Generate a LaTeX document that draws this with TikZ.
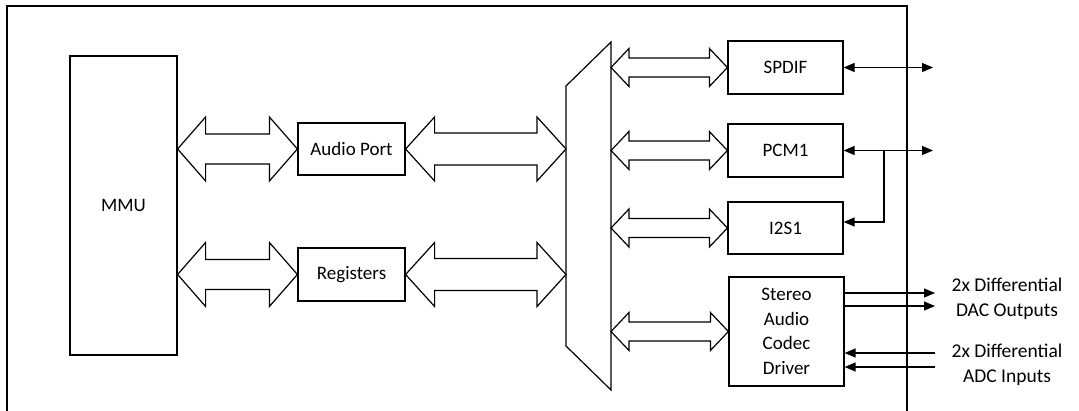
\documentclass[tikz,border=0pt]{standalone}
\usepackage{fontspec}
\setmainfont{Carlito}
\usetikzlibrary{arrows.meta,calc}
\tikzset{
  box/.style={draw,line width=1.2pt,inner sep=0pt,align=center,font=\fontsize{19}{24.5}\selectfont},
  blk/.style={draw,line width=1.2pt,fill=white,line join=miter},
  sig/.style={line width=1.2pt},
  tip/.style={-{Triangle[length=11pt,width=9pt]}},
  bitip/.style={{Triangle[length=11pt,width=9pt]}-{Triangle[length=11pt,width=9pt]}},
  lbl/.style={align=center,font=\fontsize{19.5}{24.5}\selectfont}
}
% #1 left tip, #2 right tip, #3 head length, #4 head half-width, #5 shaft half-width
\newcommand{\dblblock}[5]{%
  \draw[blk] (#1) -- ($(#1)+(#3,-#4)$) -- ($(#1)+(#3,-#5)$) -- ($(#2)+(-#3,-#5)$)
    -- ($(#2)+(-#3,-#4)$) -- (#2) -- ($(#2)+(-#3,#4)$) -- ($(#2)+(-#3,#5)$)
    -- ($(#1)+(#3,#5)$) -- ($(#1)+(#3,#4)$) -- cycle;}
\begin{document}
\begin{tikzpicture}[x=1pt,y=-1pt]
\useasboundingbox (0,0) rectangle (1079,410);
% frame
\draw[line width=1.2pt] (7,412) -- (7,6) -- (907,6) -- (907,412);
% blocks
\node[box,minimum width=107pt,minimum height=299pt,text depth=-15pt] (mmu) at (123.5,205.5) {MMU};
\node[box,minimum width=107pt,minimum height=52pt] (ap) at (351.5,149) {Audio Port};
\node[box,minimum width=107pt,minimum height=53pt] (reg) at (351.5,274.5) {Registers};
\node[box,minimum width=115pt,minimum height=53pt] (spdif) at (785.5,67.5) {SPDIF};
\node[box,minimum width=115pt,minimum height=53pt] (pcm) at (785.5,150.5) {PCM1};
\node[box,minimum width=115pt,minimum height=52pt] (i2s) at (785.5,228) {I2S1};
\node[box,minimum width=115pt,minimum height=109pt] (codec) at (786.5,331.5) {Stereo\\Audio\\Codec\\Driver};
% mux
\coordinate (muxL) at (566,215);
\coordinate (muxR) at (611,215);
\draw[blk] (566,86) -- (611,42) -- (611,390) -- (566,346) -- cycle;
% wide buses
\dblblock{mmu.east |- ap.west}{ap.west}{28}{32}{15}
\dblblock{mmu.east |- reg.west}{reg.west}{28}{32}{15}
\dblblock{ap.east}{muxL |- ap.east}{29}{32}{16}
\dblblock{reg.east}{muxL |- reg.east}{29}{32}{16}
\dblblock{muxR |- spdif.west}{spdif.west}{18}{19}{9.5}
\dblblock{muxR |- pcm.west}{pcm.west}{18}{19}{9.5}
\dblblock{muxR |- i2s.west}{i2s.west}{18}{19}{9.5}
\dblblock{muxR |- codec.west}{codec.west}{18}{19}{9.5}
% external signals
\coordinate (spdifout) at (933,67.5);
\coordinate (pcmout) at (933,150.5);
\coordinate (br) at (884,150.5);
\coordinate (bri) at (884,222);
\draw[sig,bitip] (spdif.east) -- (spdifout);
\draw[sig,bitip] (pcm.east) -- (pcmout);
\draw[sig,tip] (br) -- (bri) -- (i2s.east |- bri);
\coordinate (o1) at (935,293);
\coordinate (o2) at (935,306);
\coordinate (i1) at (935,353);
\coordinate (i2) at (935,367);
\draw[sig,tip] (codec.east |- o1) -- (o1);
\draw[sig,tip] (codec.east |- o2) -- (o2);
\draw[sig,tip] (i1) -- (codec.east |- i1);
\draw[sig,tip] (i2) -- (codec.east |- i2);
\node[lbl] (dac) at (1007,299) {2x Differential\\DAC Outputs};
\node[lbl] (adc) at (1007,365) {2x Differential\\ADC Inputs};
\end{tikzpicture}
\end{document}
